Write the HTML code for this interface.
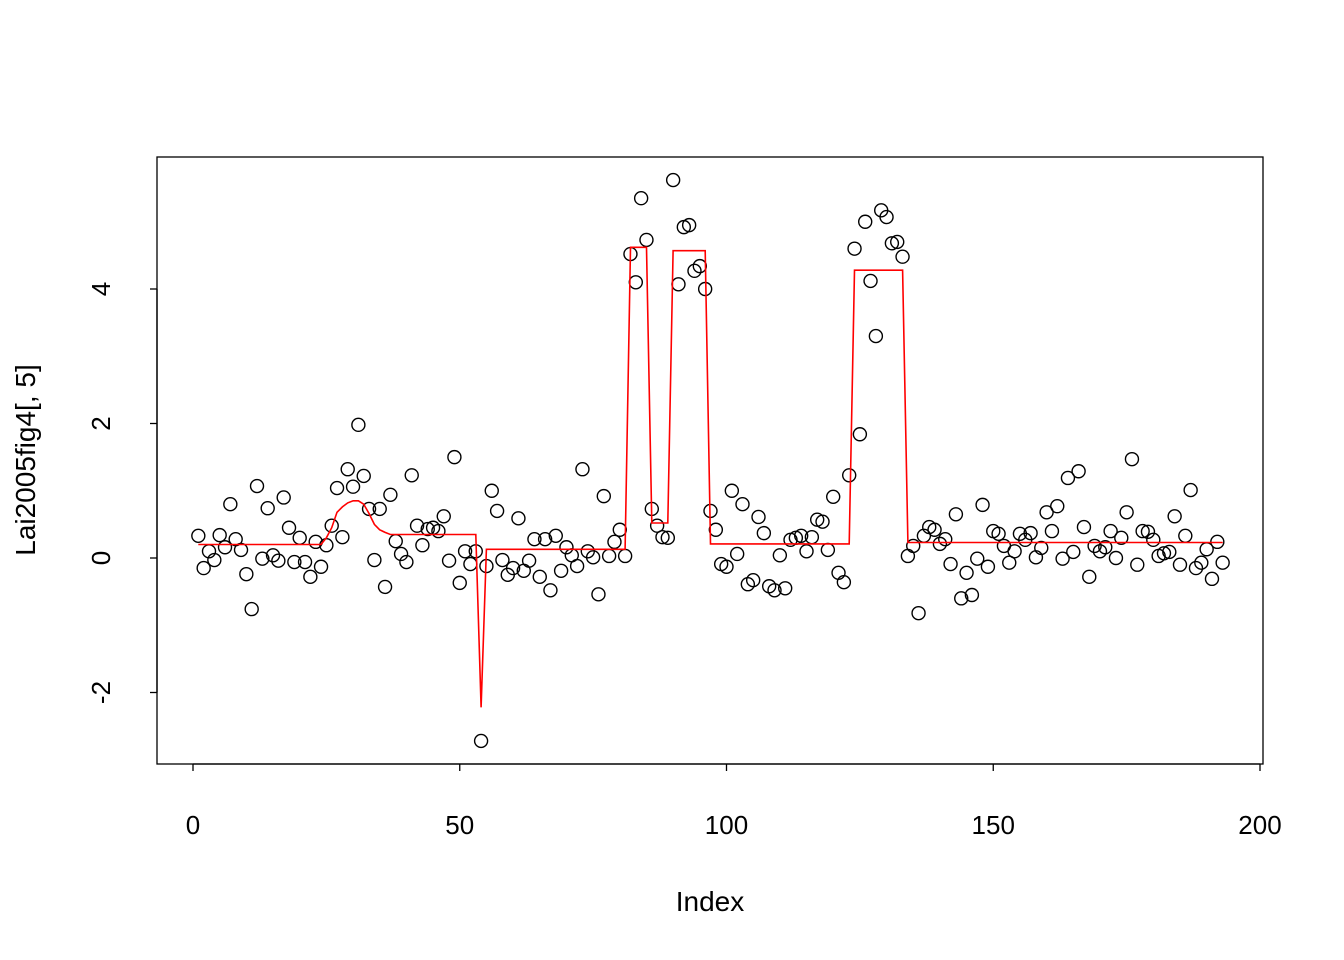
<!DOCTYPE html>
<html><head><meta charset="utf-8"><style>
html,body{margin:0;padding:0;background:#fff;}
svg{display:block;font-family:"Liberation Sans",Arial,sans-serif;}
</style></head><body>
<svg id="chart" width="1344" height="960" viewBox="0 0 1344 960" xmlns="http://www.w3.org/2000/svg">
<rect x="0" y="0" width="1344" height="960" fill="#fff"/>
<rect x="157" y="157" width="1106" height="607" fill="none" stroke="#000" stroke-width="1.3"/>
<g id="xaxis"></g>
<g id="yaxis"></g>
<g id="points"></g>
<g id="fit"></g>
<text x="710" y="911" font-size="28" text-anchor="middle">Index</text>
<text x="35" y="460" font-size="28" text-anchor="middle" transform="rotate(-90 35 460)">Lai2005fig4[, 5]</text>
</svg>
<script>
const values = [0.33,-0.15,0.1,-0.03,0.34,0.16,0.8,0.28,0.12,-0.24,-0.76,1.07,-0.01,0.74,0.04,-0.04,0.9,0.45,-0.06,0.3,
-0.06,-0.28,0.24,-0.13,0.19,0.48,1.04,0.31,1.32,1.06,1.98,1.22,0.73,-0.03,0.73,-0.43,0.94,0.25,0.06,-0.06,
1.23,0.48,0.19,0.43,0.45,0.4,0.62,-0.04,1.5,-0.37,0.1,-0.09,0.1,-2.72,-0.12,1.0,0.7,-0.03,-0.25,-0.15,
0.59,-0.19,-0.04,0.28,-0.28,0.28,-0.48,0.33,-0.19,0.16,0.04,-0.12,1.32,0.1,0.01,-0.54,0.92,0.03,0.24,0.42,
0.03,4.52,4.1,5.35,4.73,0.73,0.48,0.31,0.3,5.62,4.07,4.92,4.95,4.27,4.34,4.0,0.7,0.42,-0.09,-0.13,
1.0,0.06,0.8,-0.39,-0.33,0.61,0.37,-0.42,-0.48,0.04,-0.45,0.27,0.3,0.33,0.1,0.31,0.57,0.54,0.12,0.91,
-0.22,-0.36,1.23,4.6,1.84,5.0,4.12,3.3,5.17,5.07,4.68,4.7,4.48,0.03,0.18,-0.82,0.33,0.46,0.42,0.21,
0.28,-0.09,0.65,-0.6,-0.22,-0.55,-0.01,0.79,-0.13,0.4,0.36,0.18,-0.07,0.1,0.36,0.27,0.37,0.01,0.15,0.68,
0.4,0.77,-0.01,1.19,0.09,1.29,0.46,-0.28,0.18,0.1,0.16,0.4,0.0,0.3,0.68,1.47,-0.1,0.4,0.39,0.27,
0.03,0.07,0.09,0.62,-0.1,0.33,1.01,-0.15,-0.07,0.13,-0.31,0.24,-0.07];
const fitSegments = [[1,24,0.2],[37,53,0.35],[55,81,0.13],[82,85,4.62],[86,89,0.52],[90,96,4.57],[97,123,0.21],[124,133,4.28],[134,193,0.23]];
const fitSpecial = {25:0.3,26:0.45,27:0.68,28:0.76,29:0.82,30:0.85,31:0.85,32:0.8,33:0.66,34:0.5,35:0.42,36:0.38,54:-2.22};
const xTicks = [0,50,100,150,200];
const yTicks = [-2,0,2,4];

const NS="http://www.w3.org/2000/svg";
const xs = v => 193 + (v)*(1260-193)/200;
const ys = v => 558 - v*(558-289)/4;
function mk(tag, attrs, parent){const e=document.createElementNS(NS,tag);for(const k in attrs)e.setAttribute(k,attrs[k]);parent.appendChild(e);return e;}

const xa=document.getElementById('xaxis');
mk('line',{x1:xs(xTicks[0]),x2:xs(xTicks[xTicks.length-1]),y1:764,y2:764,stroke:'#000','stroke-width':1.3},xa);
xTicks.forEach(t=>{
  const l=mk('line',{x1:xs(t),x2:xs(t),y1:764,y2:771,stroke:'#000','stroke-width':1.3},xa);
  
  
  const tx=mk('text',{x:xs(t),y:834,'font-size':26,'text-anchor':'middle'},xa);
  tx.textContent=t;
  
  
});
const ya=document.getElementById('yaxis');
mk('line',{x1:157,x2:157,y1:ys(yTicks[0]),y2:ys(yTicks[yTicks.length-1]),stroke:'#000','stroke-width':1.3},ya);
yTicks.forEach(t=>{
  const l=mk('line',{x1:150,x2:157,y1:ys(t),y2:ys(t),stroke:'#000','stroke-width':1.3},ya);
  
  
  const tx=mk('text',{x:110,y:ys(t),'font-size':26,'text-anchor':'middle',transform:`rotate(-90 110 ${ys(t)})`},ya);
  tx.textContent=t;
  
  
});
const pg=document.getElementById('points');
values.forEach((v,i)=>{
  const c=mk('circle',{cx:xs(i+1),cy:ys(v),r:6.5,fill:'none',stroke:'#000','stroke-width':1.4},pg);
  
  
});
const fit=[];
for(let i=1;i<=values.length;i++){
  let f=null;
  if(fitSpecial[i]!==undefined) f=fitSpecial[i];
  else fitSegments.forEach(s=>{if(i>=s[0]&&i<=s[1]) f=s[2];});
  fit.push(f);
}
const pts=fit.map((f,i)=>xs(i+1).toFixed(1)+','+ys(f).toFixed(1)).join(' ');
const pl=mk('polyline',{points:pts,fill:'none',stroke:'#ff0000','stroke-width':1.6},document.getElementById('fit'));


</script>
</body></html>
